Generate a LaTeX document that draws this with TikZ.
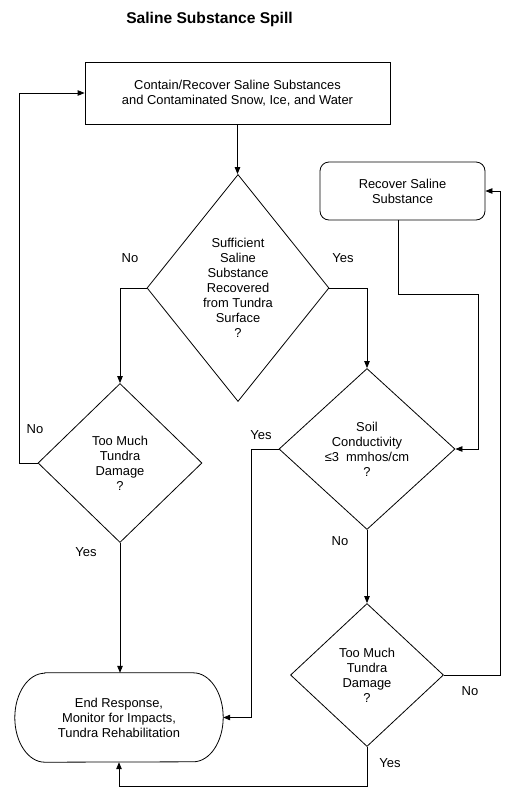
\documentclass[tikz,border=0pt]{standalone}
\usepackage{fontspec}
\setmainfont{Liberation Sans}
\usetikzlibrary{shapes.geometric,arrows.meta}
\begin{document}
\begin{tikzpicture}[x=1pt,y=-1pt,
  every node/.style={font=\fontsize{12.9}{15}\selectfont, align=center, inner sep=0pt},
  proc/.style={draw, line width=0.8pt, rectangle, minimum width=305pt, minimum height=62pt},
  rbox/.style={draw, line width=0.8pt, rectangle, rounded corners=9pt, minimum width=165pt, minimum height=58pt},
  dec/.style={draw, line width=0.8pt, diamond, inner sep=0pt},
  lbl/.style={font=\fontsize{13}{15}\selectfont},
  arr/.style={line width=0.8pt, -{Triangle[length=7pt,width=5.5pt]}}
]
\useasboundingbox (0,0) rectangle (514,796);
\node[font=\bfseries\fontsize{15.6}{18}\selectfont] (title) at (209.5,19) {Saline Substance Spill};

\node[proc] (contain) at (237.5,93) {Contain/Recover Saline Substances\\and Contaminated Snow, Ice, and Water};
\node[dec, minimum width=182pt, minimum height=227pt] (d1) at (238,288) {Sufficient\\Saline\\Substance\\Recovered\\from Tundra\\Surface\\?};
\node[dec, minimum width=164pt, minimum height=159pt] (d2) at (120,463) {Too Much\\Tundra\\Damage\\?};
\node[dec, minimum width=176pt, minimum height=161pt] (d3) at (367,449) {Soil\\Conductivity\\≤3~ mmhos/cm\\?};
\node[dec, minimum width=153pt, minimum height=143pt] (d4) at (367,675) {Too Much\\Tundra\\Damage\\?};
\node[rbox] (recover) at (402.5,191) {Recover Saline\\Substance};
\node[minimum width=208pt, minimum height=89pt] (end) at (119,717.5) {End Response,\\Monitor for Impacts,\\Tundra Rehabilitation};
\draw[line width=0.8pt] ([xshift=30pt]end.north west) -- ([xshift=-30pt]end.north east)
  arc[start angle=90, end angle=-90, x radius=30pt, y radius=44.5pt]
  -- ([xshift=30pt]end.south west)
  arc[start angle=-90, end angle=-270, x radius=30pt, y radius=44.5pt] -- cycle;

\draw[arr] (contain.south) -- (contain.south |- d1.north);
\draw[arr] (d1.west) -| (d2.north);
\draw[arr] (d2.west) -- ++(-18,0) |- (contain.west);
\draw[arr] (d2.south) -- (d2.south |- end.north);
\draw[arr] (d1.east) -| (d3.north);
\draw[arr] (d3.west) -- ++(-27,0) |- (end.east);
\draw[arr] (d3.south) -- (d4.north);
\draw[arr] (d4.south) -- ++(0,39) -| (end.south);
\draw[arr] (d4.east) -- ++(56,0) |- (recover.east);
\draw[arr] ([xshift=-4.5pt]recover.south) |- ++(80,74) |- (d3.east);

\node[lbl] (l1) at (130,258) {No};
\node[lbl] (l2) at (343,258) {Yes};
\node[lbl] (l3) at (35,429) {No};
\node[lbl] (l4) at (86,552) {Yes};
\node[lbl] (l5) at (261,435) {Yes};
\node[lbl] (l6) at (340,541) {No};
\node[lbl] (l7) at (470,691) {No};
\node[lbl] (l8) at (390,763) {Yes};
\end{tikzpicture}
\end{document}
